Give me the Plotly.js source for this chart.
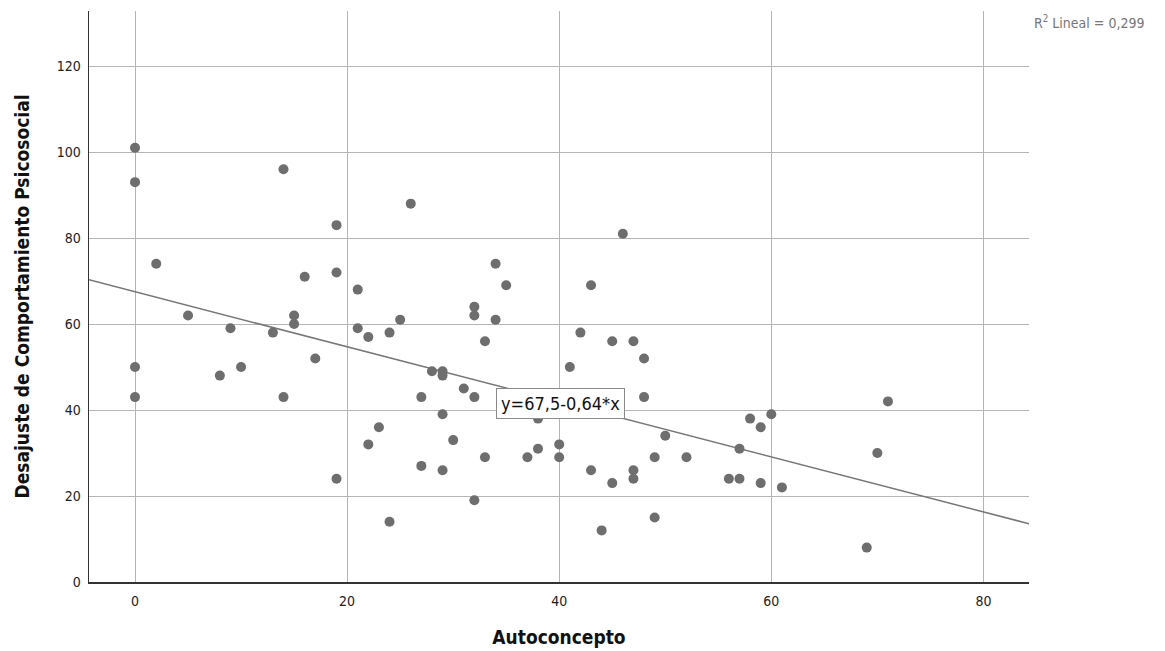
<!DOCTYPE html>
<html>
<head>
<meta charset="utf-8">
<script src="https://cdn.plot.ly/plotly-3.0.1.min.js"></script>
<style>html,body{margin:0;padding:0;background:#fff;}#chart{width:1165px;height:651px;}</style>
</head>
<body>
<div id="chart"></div>
<script>
const autoconcepto = [0,0,0,0,2,5,8,9,10,13,14,14,15,15,16,17,19,19,19,21,21,22,22,23,24,24,25,26,27,27,28,29,29,29,29,30,31,32,32,32,32,33,33,34,34,35,37,38,38,40,40,41,42,43,43,44,45,45,46,47,47,47,48,48,49,49,50,52,56,57,57,58,59,59,60,61,69,70,71];
const desajuste  = [101,93,50,43,74,62,48,59,50,58,96,43,62,60,71,52,83,72,24,68,59,57,32,36,58,14,61,88,43,27,49,49,48,39,26,33,45,64,62,43,19,56,29,74,61,69,29,38,31,32,29,50,58,69,26,12,56,23,81,56,26,24,52,43,29,15,34,29,24,31,24,38,36,23,39,22,8,30,42];
const intercept = 67.5;
const slope = -0.64;
const r2Label = "R<sup>2</sup> Lineal = 0,299";
const eqLabel = "y=67,5-0,64*x";
const xTicks = [0,20,40,60,80];
const yTicks = [0,20,40,60,80,100,120];
const xRange = [-4.34, 84.3];
const yRange = [0, 132.8];

const fitX = xRange.slice();
const fitY = fitX.map(v => intercept + slope * v);

const font = "'DejaVu Sans Condensed', 'DejaVu Sans', sans-serif";

const data = [
  {x: fitX, y: fitY, type: 'scatter', mode: 'lines', line: {color: '#777777', width: 1.5}, hoverinfo: 'skip', showlegend: false},
  {x: autoconcepto, y: desajuste, type: 'scatter', mode: 'markers', marker: {color: '#6e6e6e', size: 10, line: {width: 0}}, showlegend: false}
];

const layout = {
  width: 1165, height: 651,
  margin: {l: 89, r: 136, t: 11, b: 69},
  paper_bgcolor: '#ffffff', plot_bgcolor: '#ffffff',
  font: {family: font, color: '#222222', size: 13},
  separators: ',.',
  xaxis: {
    range: xRange, tickvals: xTicks, ticktext: xTicks.map(String),
    showgrid: true, gridcolor: '#b4b4b4', gridwidth: 1, zeroline: false,
    showline: true, linecolor: '#333333', linewidth: 1.5, ticks: '', ticklen: 0,
    ticklabelstandoff: 6,
    tickfont: {family: font, size: 14, color: '#222'},
    title: {text: '<b>Autoconcepto</b>', font: {family: font, size: 19, color: '#111'}, standoff: 22}
  },
  yaxis: {
    range: yRange, tickvals: yTicks, ticktext: yTicks.map(String),
    showgrid: true, gridcolor: '#b4b4b4', gridwidth: 1, zeroline: false,
    showline: true, linecolor: '#333333', linewidth: 1.5, ticks: '', ticklen: 0,
    ticklabelstandoff: 4,
    tickfont: {family: font, size: 14, color: '#222'},
    title: {text: '<b>Desajuste de Comportamiento Psicosocial</b>', font: {family: font, size: 19, color: '#111'}, standoff: 22}
  },
  annotations: [
    {xref: 'paper', yref: 'paper', x: 1.003, y: 0.981, xanchor: 'left', yanchor: 'middle', text: r2Label, showarrow: false, font: {family: font, size: 14, color: '#777777'}},
    {xref: 'x', yref: 'y', x: 40.1, y: 41.6, xanchor: 'center', yanchor: 'middle', text: eqLabel, showarrow: false, font: {family: font, size: 18, color: '#111'}, bgcolor: '#ffffff', bordercolor: '#8a8a8a', borderwidth: 1, borderpad: 4}
  ]
};

Plotly.newPlot('chart', data, layout, {displayModeBar: false, staticPlot: true});
</script>
</body>
</html>
